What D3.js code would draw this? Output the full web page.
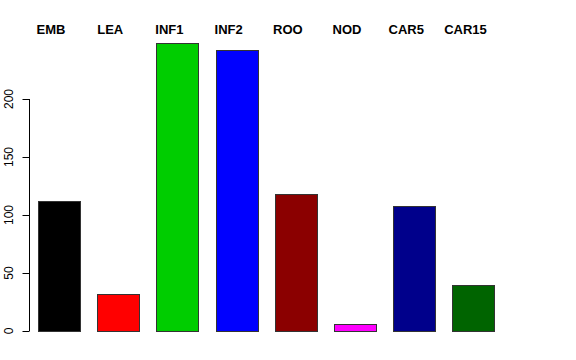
<!DOCTYPE html>
<html>
<head>
<meta charset="utf-8">
<script src="https://cdn.jsdelivr.net/npm/d3@7"></script>
<style>
  body { margin: 0; background: #fff; }
  svg { display: block; font-family: "Liberation Sans", Arial, Helvetica, sans-serif; }
</style>
</head>
<body>
<div id="chart"></div>
<script>
const categories = ["EMB", "LEA", "INF1", "INF2", "ROO", "NOD", "CAR5", "CAR15"];
const values = [112, 32, 248, 242, 118, 6, 108, 40];
const barColors = ["#000000", "#ff0000", "#00cd00", "#0000ff", "#8b0000", "#ff00ff", "#00008b", "#006400"];
const yTicks = [0, 50, 100, 150, 200];

const width = 576, height = 360;

const svg = d3.select("#chart").append("svg")
    .attr("width", width)
    .attr("height", height);

// bars ~42px wide every ~59px
const x = d3.scaleBand()
    .domain(categories)
    .range([38, 494.5])
    .paddingInner(0.29)
    .paddingOuter(0);

const y = d3.scaleLinear()
    .domain([0, 200])
    .range([331, 99]);

svg.append("g")
    .selectAll("rect")
    .data(values)
    .join("rect")
    .attr("x", (d, i) => Math.round(x(categories[i])) + 0.5)
    .attr("y", d => Math.round(y(d)) + 0.5)
    .attr("width", Math.round(x.bandwidth()))
    .attr("height", d => y(0) - Math.round(y(d)))
    .attr("fill", (d, i) => barColors[i])
    .attr("stroke", "#333")
    .attr("stroke-width", 1);

// y axis, R style
const axis = svg.append("g").attr("transform", "translate(29.5,0)");
axis.append("line")
    .attr("x1", 0).attr("x2", 0)
    .attr("y1", y(0)).attr("y2", y(200))
    .attr("stroke", "#000");
axis.selectAll(".tick")
    .data(yTicks)
    .join("line")
    .attr("x1", -7).attr("x2", 0)
    .attr("y1", d => y(d) + 0.5).attr("y2", d => y(d) + 0.5)
    .attr("stroke", "#000");
axis.selectAll("text")
    .data(yTicks)
    .join("text")
    .attr("transform", d => `translate(-17,${y(d)}) rotate(-90)`)
    .attr("text-anchor", "middle")
    .attr("font-size", 12)
    .text(d => d);

// category labels at top
svg.append("g")
    .selectAll("text")
    .data(categories)
    .join("text")
    .attr("x", d => x(d) + x.bandwidth() / 2 - 8)
    .attr("y", 34)
    .attr("text-anchor", "middle")
    .attr("font-size", 13)
    .attr("font-weight", "bold")
    .text(d => d);
</script>
</body>
</html>
